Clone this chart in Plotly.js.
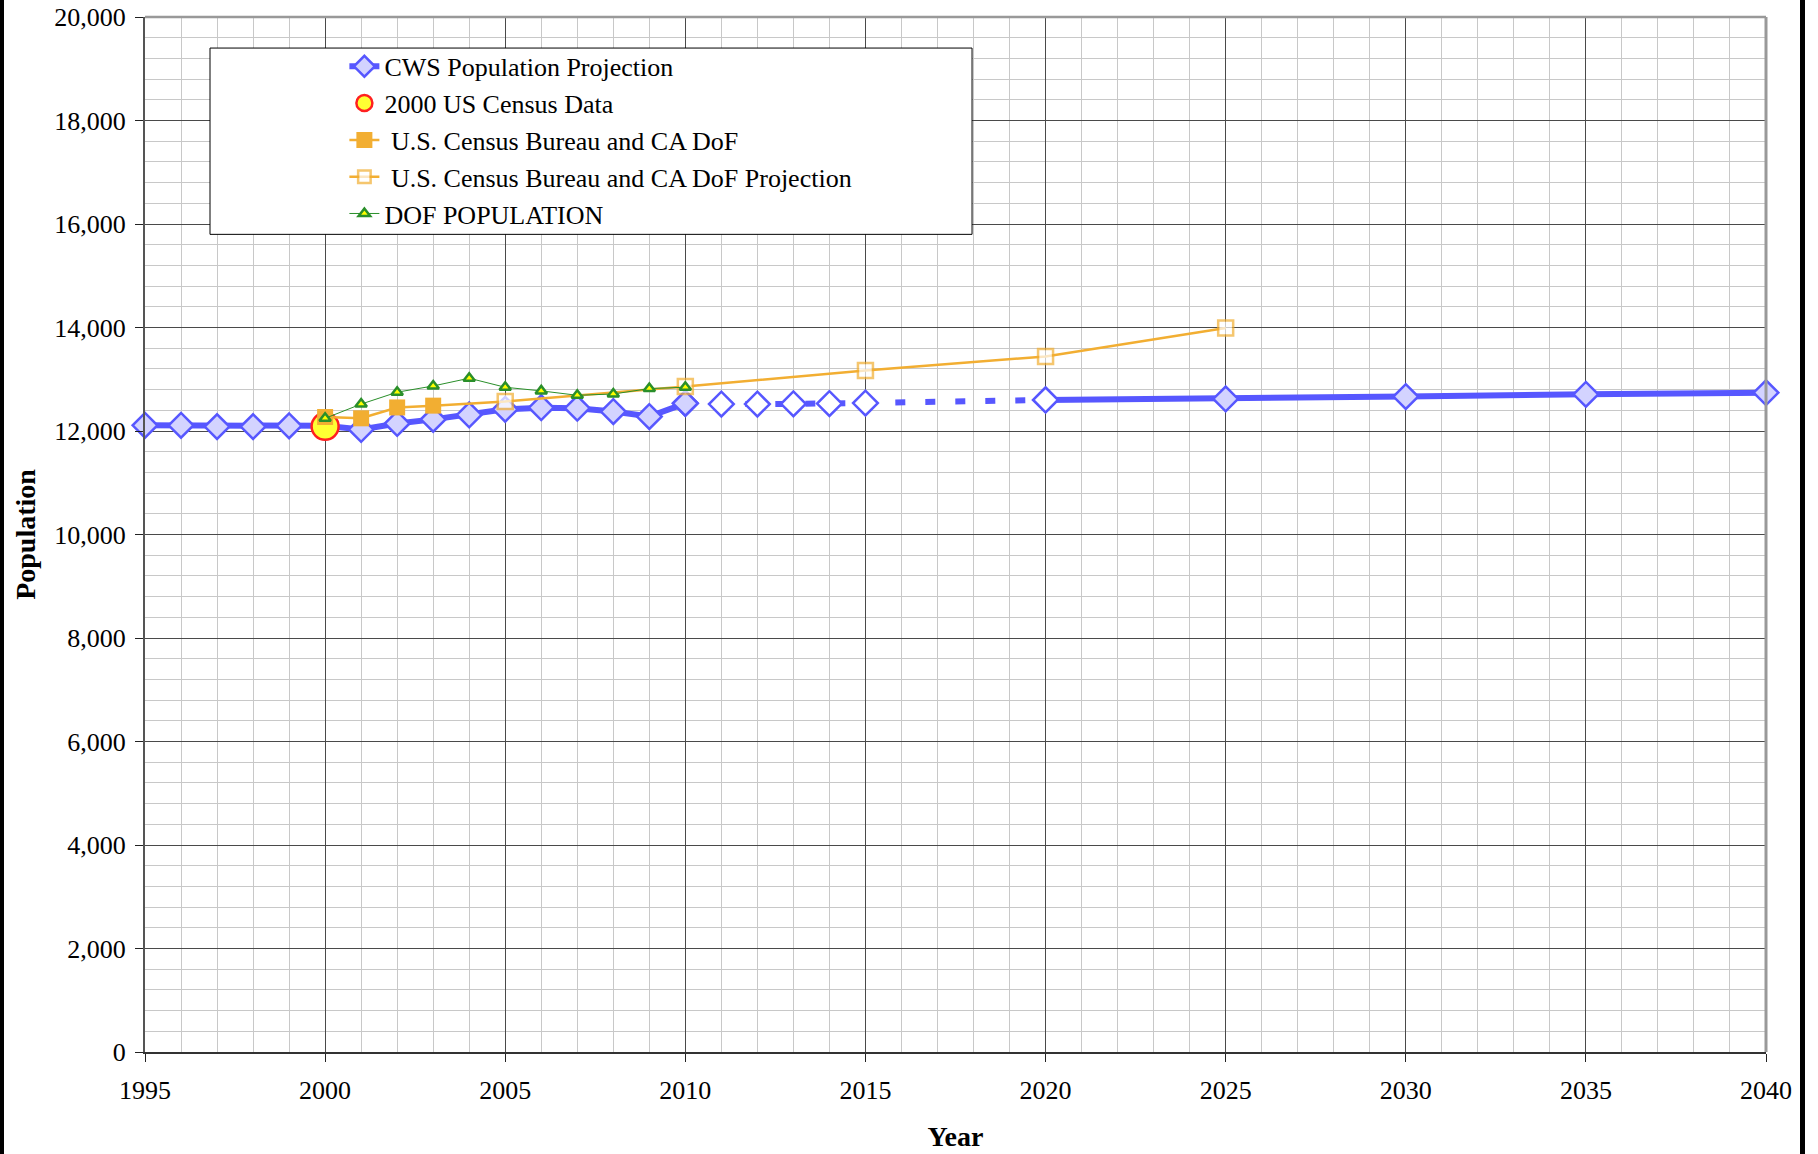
<!DOCTYPE html>
<html>
<head>
<meta charset="utf-8">
<script src="https://cdn.plot.ly/plotly-3.0.1.min.js"></script>
<style>
  html, body { margin: 0; padding: 0; background: #fff; }
  #chart { width: 1818px; height: 1154px; }
  .bar { position: absolute; top: 0; height: 1154px; background: #000; }
</style>
</head>
<body>
<div id="chart"></div>
<div class="bar" style="left:0;width:4px;"></div>
<div class="bar" style="left:1800px;width:5px;"></div>
<script>
// ---- data ----
const cwsYears = [1995, 1996, 1997, 1998, 1999, 2000, 2001, 2002, 2003, 2004, 2005, 2006, 2007, 2008, 2009, 2010,
                  2011, 2012, 2013, 2014, 2015, 2020, 2025, 2030, 2035, 2040];
const cwsPop   = [12110, 12110, 12085, 12085, 12100, 12100, 12030, 12145, 12225, 12310, 12420, 12450, 12440, 12375, 12280, 12535,
                  12520, 12520, 12525, 12530, 12540, 12600, 12620, 12665, 12710, 12740];
const censusYear = [2000];
const censusPop  = [12090];
const dofBureauYears = [2000, 2001, 2002, 2003];
const dofBureauPop   = [12270, 12245, 12455, 12490];
const projYears = [2005, 2010, 2015, 2020, 2025];
const projPop   = [12570, 12860, 13170, 13440, 13990];
const dofYears = [2000, 2001, 2002, 2003, 2004, 2005, 2006, 2007, 2008, 2009, 2010];
const dofPop   = [12245, 12520, 12750, 12870, 13020, 12845, 12775, 12690, 12715, 12820, 12845];
const xTicks = [1995, 2000, 2005, 2010, 2015, 2020, 2025, 2030, 2035, 2040];

// ---- styling ----
const FONT = 'Liberation Serif, Times New Roman, serif';
const BLUE = '#5757ff', LAV = '#d3d3ff', ORANGE = '#f2ae32', GREEN = '#2a8f2a';
const projectedFrom = 2010, projectedTo = 2020; // CWS dashed / hollow segment

function seg(lo, hi) {
  const xs = [], ys = [];
  cwsYears.forEach((y, i) => { if (y >= lo && y <= hi) { xs.push(y); ys.push(cwsPop[i]); } });
  return {xs, ys};
}
function fills(xs) { return xs.map(y => (y > projectedFrom && y <= projectedTo) ? '#ffffff' : LAV); }

const s1 = seg(1995, projectedFrom), s2 = seg(projectedFrom, projectedTo), s3 = seg(projectedTo, 2040);
const cwsMarker = xs => ({symbol: 'diamond', size: 19, color: fills(xs), line: {color: BLUE, width: 2.5}});

const traces = [
  {x: s2.xs, y: s2.ys, mode: 'lines+markers', line: {color: BLUE, width: 6, dash: '10px,20px'},
   marker: cwsMarker(s2.xs), showlegend: false, cliponaxis: false},
  {x: s3.xs, y: s3.ys, mode: 'lines+markers', line: {color: BLUE, width: 6},
   marker: cwsMarker(s3.xs), showlegend: false, cliponaxis: false},
  {x: s1.xs, y: s1.ys, mode: 'lines+markers', name: 'CWS Population Projection', legendrank: 1,
   line: {color: BLUE, width: 6}, marker: cwsMarker(s1.xs), cliponaxis: false},
  {x: censusYear, y: censusPop, mode: 'markers', name: '2000 US Census Data', legendrank: 2,
   marker: {symbol: 'circle', size: 27, color: '#ffff33', line: {color: '#ff2020', width: 2.5}}, cliponaxis: false},
  (function () {
    const xs = [dofBureauYears[dofBureauYears.length - 1], ...projYears];
    const ys = [dofBureauPop[dofBureauPop.length - 1], ...projPop];
    return {x: xs, y: ys, mode: 'lines+markers', name: '\u00a0U.S. Census Bureau and CA DoF Projection', legendrank: 4,
      line: {color: ORANGE, width: 2.5}, cliponaxis: false,
      marker: {symbol: 'square', size: xs.map((_, i) => i === 0 ? 0 : 15), color: '#ffffff', line: {color: ORANGE, width: 2.5}}};
  })(),
  {x: dofBureauYears, y: dofBureauPop, mode: 'lines+markers', name: '\u00a0U.S. Census Bureau and CA DoF', legendrank: 3,
   line: {color: ORANGE, width: 2.5}, marker: {symbol: 'square', size: 16, color: ORANGE}, cliponaxis: false},
  {x: dofYears, y: dofPop, mode: 'lines+markers', name: 'DOF POPULATION', legendrank: 5, cliponaxis: false,
   line: {color: GREEN, width: 1}, marker: {symbol: 'triangle-up', size: 10, color: '#ffff00', line: {color: GREEN, width: 2.5}}}
];

const axisCommon = {
  showline: true, linewidth: 2, ticks: 'outside', ticklen: 8, tickwidth: 1, tickcolor: '#222',
  showgrid: true, gridcolor: '#4a4a4a', gridwidth: 1, zeroline: false,
  tickfont: {family: FONT, size: 26, color: '#000'}, automargin: false
};

const layout = {
  width: 1818, height: 1154,
  margin: {l: 145, r: 52, t: 17, b: 102},
  paper_bgcolor: '#ffffff', plot_bgcolor: '#ffffff',
  font: {family: FONT, color: '#000'},
  showlegend: true,
  legend: {x: 0.123, xanchor: 'left', y: 0.975, yanchor: 'top', bgcolor: 'rgba(0,0,0,0)', borderwidth: 0,
           font: {family: FONT, size: 26, color: '#000'}, traceorder: 'normal'},
  xaxis: Object.assign({}, axisCommon, {
    range: [1995, 2040], tickvals: xTicks, ticktext: xTicks.map(String), linecolor: '#333',
    ticklabelstandoff: 6,
    minor: {dtick: 1, showgrid: true, gridcolor: '#c8c8c8', gridwidth: 1, ticks: ''},
    title: {text: '<b>Year</b>', font: {family: FONT, size: 28, color: '#000'}, standoff: 22}
  }),
  yaxis: Object.assign({}, axisCommon, {
    range: [0, 20000], dtick: 2000, tickformat: ',d', linecolor: '#555',
    ticklabelstandoff: 4,
    minor: {dtick: 400, showgrid: true, gridcolor: '#c8c8c8', gridwidth: 1, ticks: ''},
    title: {text: '<b>Population</b>', font: {family: FONT, size: 28, color: '#000'}, standoff: 10}
  }),
  shapes: [
    {type: 'line', xref: 'paper', yref: 'paper', x0: 0, x1: 1, y0: 1, y1: 1, line: {color: '#999', width: 2.5}, layer: 'above'},
    {type: 'line', xref: 'paper', yref: 'paper', x0: 1, x1: 1, y0: 0, y1: 1, line: {color: '#999', width: 3}, layer: 'above'},
    {type: 'rect', xref: 'paper', yref: 'paper', x0: 0.0401, x1: 0.5102, y0: 0.790, y1: 0.970,
     fillcolor: '#ffffff', line: {color: '#000', width: 1}, layer: 'above'}
  ]
};

Plotly.newPlot('chart', traces, layout, {displayModeBar: false, staticPlot: true});
</script>
</body>
</html>
